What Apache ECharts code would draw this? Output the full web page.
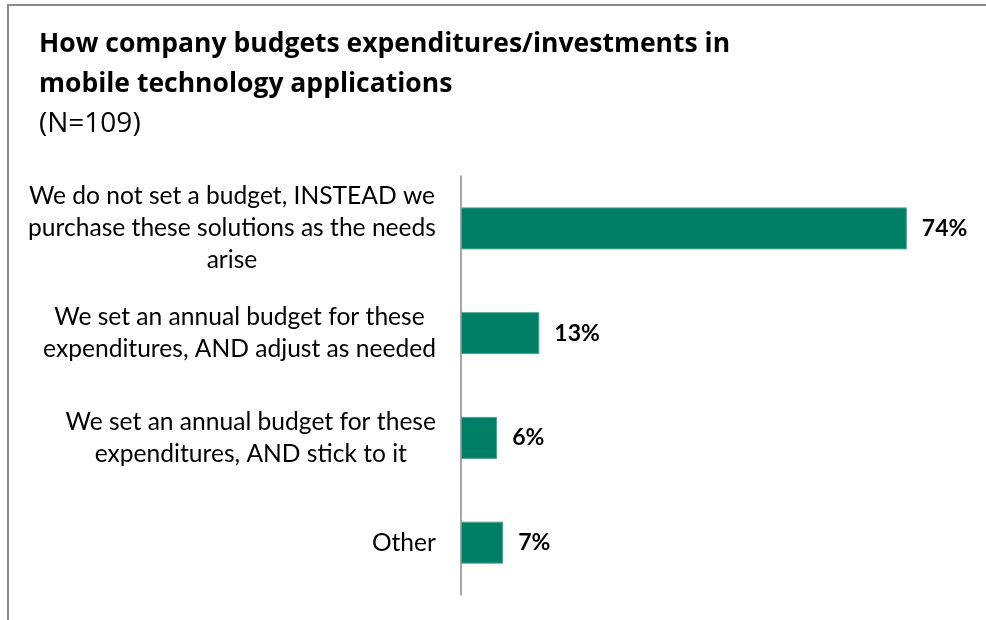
<!DOCTYPE html>
<html>
<head>
<meta charset="utf-8">
<script src="https://cdn.jsdelivr.net/npm/echarts@6/dist/echarts.min.js"></script>
<style>
html,body{margin:0;padding:0;background:#fff;}
#chart{width:986px;height:620px;}
</style>
</head>
<body>
<div id="chart"></div>
<script>
const titleLines = ["How company budgets expenditures/investments in", "mobile technology applications"];
const subtitle = "(N=109)";
const categories = [
  ["We do not set a budget, INSTEAD we", "purchase these solutions as the needs", "arise"],
  ["We set an annual budget for these", "expenditures, AND adjust as needed"],
  ["We set an annual budget for these", "expenditures, AND stick to it"],
  ["Other"]
];
const values = [74, 13, 6, 7];

const FONT = 'Lato';
const TFONT = 'Open Sans';
const chart = echarts.init(document.getElementById('chart'));
chart.setOption({
  animation: false,
  backgroundColor: '#ffffff',
  graphic: [{
    type: 'rect',
    shape: {x: 8, y: 5, width: 1100, height: 800},
    style: {fill: 'none', stroke: '#8a8a8a', lineWidth: 2}
  }],
  title: {
    text: titleLines.join('\n'),
    subtext: subtitle,
    left: 39,
    top: 24,
    itemGap: 0,
    padding: 0,
    textStyle: {fontFamily: TFONT, fontSize: 26.5, fontWeight: 'bold', color: '#000', lineHeight: 40},
    subtextStyle: {fontFamily: TFONT, fontSize: 28, fontWeight: 'normal', color: '#000', lineHeight: 40}
  },
  grid: {left: 461, right: 43, top: 176, bottom: 25, containLabel: false},
  xAxis: {type: 'value', min: 0, max: 80, show: false},
  yAxis: {
    type: 'category',
    inverse: true,
    data: categories.map(c => c.join('\n')),
    axisLine: {show: true, lineStyle: {color: '#8a8a8a', width: 1.5}},
    axisTick: {show: false},
    splitLine: {show: false},
    axisLabel: {
      margin: 25,
      align: 'right',
      formatter: function (v) { return v.split('\n').map(l => '{c|' + l + '}').join('\n'); },
      rich: {c: {align: 'center', fontFamily: FONT, fontSize: 24.6, color: '#000', lineHeight: 32}}
    }
  },
  series: [{
    type: 'bar',
    data: values,
    barWidth: 42,
    itemStyle: {color: '#007f66', borderColor: '#4fa790', borderWidth: 1},
    label: {
      show: true, position: 'right', distance: 15,
      formatter: p => p.value + '%',
      fontFamily: FONT, fontSize: 23, fontWeight: 'bold', color: '#000'
    }
  }]
});
</script>
</body>
</html>
